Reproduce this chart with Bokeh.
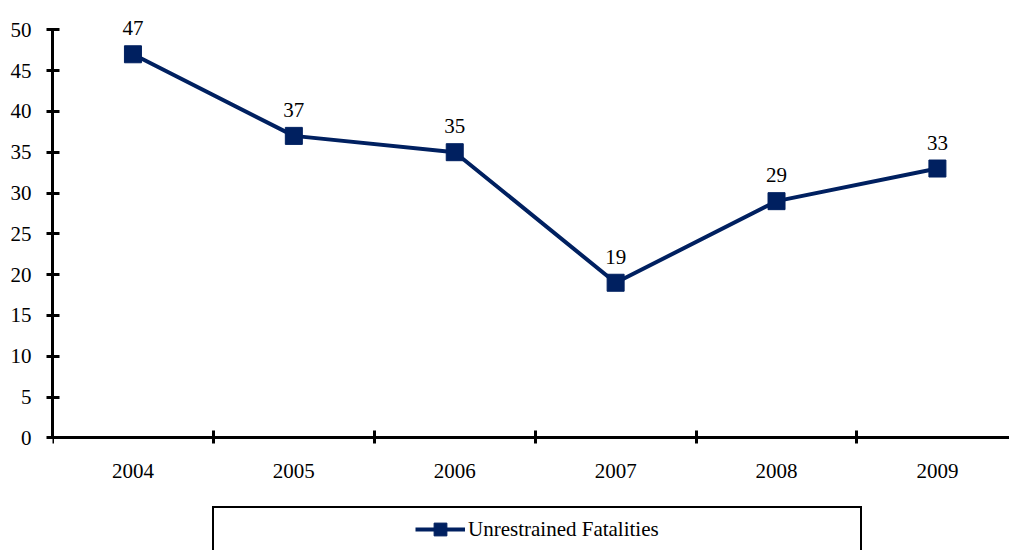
from bokeh.plotting import figure
from bokeh.models import (Range1d, FixedTicker, Legend, LegendItem,
                          ColumnDataSource, LinearAxis)
from bokeh.core.properties import value
from bokeh.embed import file_html
from bokeh.resources import INLINE

# ---- data ----
years = ["2004", "2005", "2006", "2007", "2008", "2009"]
fatalities = [47, 37, 35, 19, 29, 33]
y_ticks = [0, 5, 10, 15, 20, 25, 30, 35, 40, 45, 50]
series_name = "Unrestrained Fatalities"

NAVY = "#002060"
FONT = "Liberation Serif"

xc = [i + 0.5 for i in range(len(years))]          # category centres
bounds_x = list(range(len(years) + 1))               # category boundaries
src = ColumnDataSource(dict(x=xc, y=fatalities,
                            label=[str(v) for v in fatalities]))

p = figure(width=1009, height=550, output_backend="svg", toolbar_location=None,
           x_range=Range1d(0, 5.948), y_range=Range1d(-13.81, 53.59),
           min_border_left=52, min_border_right=0, min_border_top=0,
           min_border_bottom=0, x_axis_location=None, y_axis_location=None,
           outline_line_color=None, background_fill_color="white")
p.xgrid.visible = False
p.ygrid.visible = False

# y axis
yaxis = LinearAxis(ticker=FixedTicker(ticks=y_ticks), bounds=(0, 50))
yaxis.axis_line_width = 3
yaxis.axis_line_color = "black"
yaxis.major_tick_line_width = 3
yaxis.major_tick_line_color = "black"
yaxis.major_tick_in = 7
yaxis.major_tick_out = 6
yaxis.minor_tick_line_color = None
yaxis.major_label_standoff = 15
yaxis.major_label_text_font = FONT
yaxis.major_label_text_font_size = "21px"
yaxis.major_label_text_color = "black"
p.add_layout(yaxis, "left")

# x axis (at y = 0), ticks on category boundaries, labels at centres
xaxis = LinearAxis(fixed_location=0,
                   ticker=FixedTicker(ticks=xc, minor_ticks=bounds_x),
                   major_label_overrides={x: y for x, y in zip(xc, years)})
xaxis.axis_line_width = 3
xaxis.axis_line_color = "black"
xaxis.major_tick_in = 0
xaxis.major_tick_out = 0
xaxis.major_tick_line_color = None
xaxis.minor_tick_in = 7
xaxis.minor_tick_out = 6
xaxis.minor_tick_line_width = 3
xaxis.minor_tick_line_color = "black"
xaxis.major_label_standoff = 20
xaxis.major_label_text_font = FONT
xaxis.major_label_text_font_size = "21px"
xaxis.major_label_text_color = "black"
p.add_layout(xaxis, "below")

# series
line_r = p.line("x", "y", source=src, line_color=NAVY, line_width=4)
sc_r = p.scatter("x", "y", source=src, marker="square", size=17,
                 fill_color=NAVY, line_color=NAVY)
p.text("x", "y", text="label", source=src, text_font=value(FONT),
       text_font_size=value("21px"), text_align="center",
       text_baseline="alphabetic", y_offset=-26, text_color="black")

# legend (blank side items centre the real entry inside a wide box)
blank = p.scatter(x=[], y=[], fill_alpha=0, line_alpha=0)
legend = Legend(items=[LegendItem(label=" ", renderers=[blank]),
                       LegendItem(label=series_name, renderers=[line_r, sc_r]),
                       LegendItem(label=" ", renderers=[blank])],
                orientation="horizontal", location=(160, -2),
                padding=5, spacing=0, margin=0,
                glyph_width=50, glyph_height=32, label_standoff=3,
                label_width=143, border_line_color="black",
                border_line_alpha=1.0, border_line_width=2,
                label_text_font=FONT,
                label_text_font_size="21px", label_text_color="black",
                background_fill_color="white", background_fill_alpha=1)
p.add_layout(legend)

open("out.html", "w").write(file_html(p, INLINE))
